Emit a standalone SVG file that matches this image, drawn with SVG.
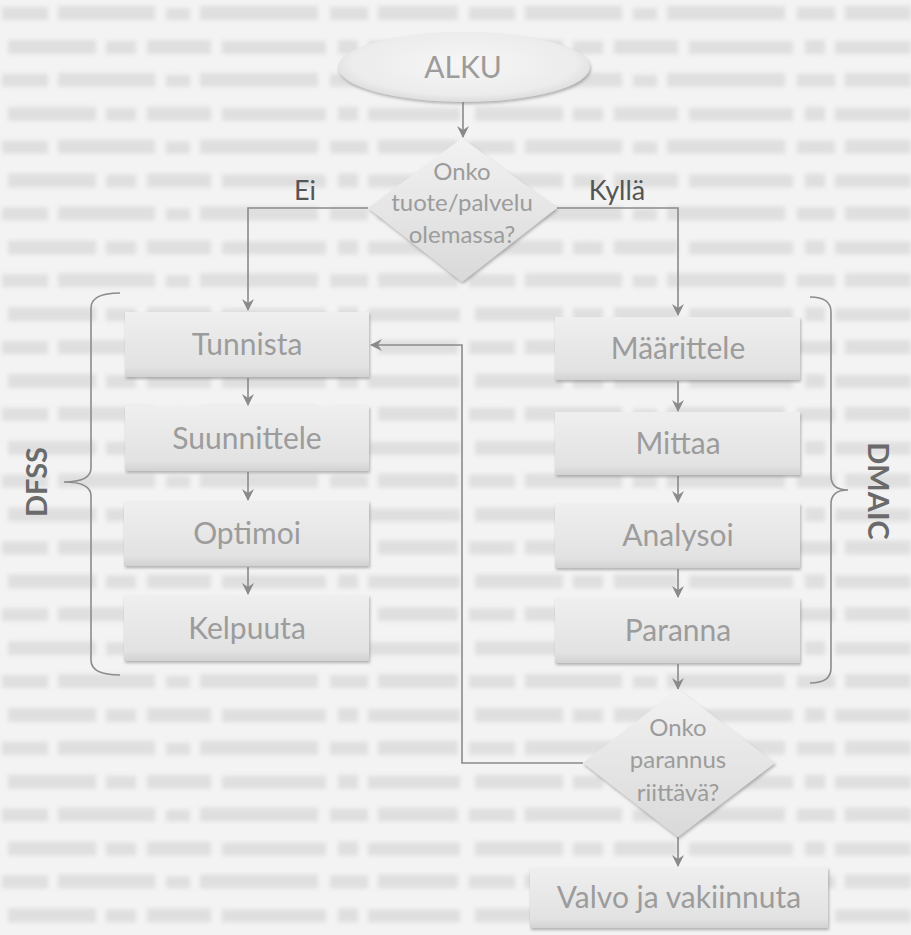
<svg xmlns="http://www.w3.org/2000/svg" width="911" height="935" viewBox="0 0 911 935">
  <defs>
    <style>
      .node-text { font-family: Lato, "Open Sans", "Liberation Sans", sans-serif; fill: #9c9c9c; text-anchor: middle; }
      .box-text { font-size: 30px; }
      .dia-text { font-size: 24px; }
      .branch { font-family: Lato, "Open Sans", "Liberation Sans", sans-serif; font-size: 27px; fill: #555; text-anchor: middle; }
      .group-label { font-family: Lato, "Open Sans", "Liberation Sans", sans-serif; font-size: 29px; font-weight: bold; fill: #6a6a6a; text-anchor: middle; }
      .conn { fill: none; stroke: #8a8a8a; stroke-width: 1.6; }
      .brace { fill: none; stroke: #8c8c8c; stroke-width: 1.6; }
      .box { fill: url(#boxFill); filter: url(#shadow); }
      .diamond { fill: url(#diaFill); filter: url(#shadow); }
      .w { fill: #c4c4c4; }
    </style>
    <linearGradient id="boxFill" x1="0" y1="0" x2="0" y2="1">
      <stop offset="0" stop-color="#efefef"/>
      <stop offset="0.85" stop-color="#e2e2e2"/>
      <stop offset="1" stop-color="#d2d2d2"/>
    </linearGradient>
    <linearGradient id="diaFill" x1="0" y1="0" x2="0" y2="1">
      <stop offset="0" stop-color="#f2f2f2"/>
      <stop offset="1" stop-color="#d9d9d9"/>
    </linearGradient>
    <radialGradient id="ovalFill" cx="0.5" cy="0.45" r="0.6">
      <stop offset="0" stop-color="#f6f6f6"/>
      <stop offset="0.75" stop-color="#ececec"/>
      <stop offset="1" stop-color="#d4d4d4"/>
    </radialGradient>
    <filter id="shadow" x="-10%" y="-10%" width="125%" height="135%">
      <feDropShadow dx="1" dy="2" stdDeviation="1.5" flood-color="#7a7a7a" flood-opacity="0.55"/>
    </filter>
    <filter id="soft" x="-5%" y="-5%" width="110%" height="110%">
      <feGaussianBlur stdDeviation="2.2"/>
    </filter>
    <marker id="arrow" viewBox="0 0 12 12" refX="11" refY="6" markerWidth="12" markerHeight="12" markerUnits="userSpaceOnUse" orient="auto">
      <path d="M0,0 L12,6 L0,12 L4,6 Z" fill="#8a8a8a"/>
    </marker>
    <!-- print bleed-through from the page: two staggered rows of word-like blocks -->
    <pattern id="printRows" x="0" y="2" width="467" height="66.8" patternUnits="userSpaceOnUse">
      <rect class="w" x="2" y="5" width="46" height="13"/>
      <rect class="w" x="58" y="4" width="97" height="14"/>
      <rect class="w" x="166" y="6" width="24" height="12"/>
      <rect class="w" x="200" y="4" width="118" height="14"/>
      <rect class="w" x="330" y="5" width="38" height="13"/>
      <rect class="w" x="378" y="4" width="80" height="14"/>
      <rect class="w" x="8" y="38" width="88" height="14"/>
      <rect class="w" x="106" y="39" width="30" height="13"/>
      <rect class="w" x="147" y="38" width="64" height="14"/>
      <rect class="w" x="222" y="39" width="104" height="13"/>
      <rect class="w" x="338" y="38" width="20" height="14"/>
      <rect class="w" x="368" y="39" width="92" height="13"/>
    </pattern>
  </defs>

  <!-- page -->
  <rect x="0" y="0" width="911" height="935" fill="#f3f3f3"/>
  <rect x="0" y="0" width="911" height="935" fill="url(#printRows)" opacity="0.42" filter="url(#soft)"/>

  <!-- connectors -->
  <g id="connectors">
    <path class="conn" d="M463,102 L463,137" marker-end="url(#arrow)"/>
    <path class="conn" d="M368,208 L248,208 L248,310" marker-end="url(#arrow)"/>
    <path class="conn" d="M557,208 L678,208 L678,315" marker-end="url(#arrow)"/>
    <path class="conn" d="M248,378 L248,405" marker-end="url(#arrow)"/>
    <path class="conn" d="M248,472 L248,500" marker-end="url(#arrow)"/>
    <path class="conn" d="M248,567 L248,594" marker-end="url(#arrow)"/>
    <path class="conn" d="M678,381 L678,411" marker-end="url(#arrow)"/>
    <path class="conn" d="M678,476 L678,502" marker-end="url(#arrow)"/>
    <path class="conn" d="M678,569 L678,597" marker-end="url(#arrow)"/>
    <path class="conn" d="M678,664 L678,689" marker-end="url(#arrow)"/>
    <path class="conn" d="M583,763 L462,763 L462,345 L371,345" marker-end="url(#arrow)"/>
    <path class="conn" d="M678,837 L678,866" marker-end="url(#arrow)"/>
  </g>

  <!-- branch labels -->
  <g id="labels">
    <text class="branch" x="305" y="200">Ei</text>
    <text class="branch" x="617" y="200">Kyllä</text>
  </g>

  <!-- start -->
  <g id="alku">
    <ellipse cx="464" cy="67" rx="126" ry="35" fill="url(#ovalFill)" filter="url(#shadow)"/>
    <text class="node-text box-text" x="463" y="78">ALKU</text>
  </g>

  <!-- first decision -->
  <g id="decision-exists">
    <polygon class="diamond" points="462,138 557,208 462,282 368,208"/>
    <text class="node-text dia-text" x="462" y="180">Onko</text>
    <text class="node-text dia-text" x="462" y="211">tuote/palvelu</text>
    <text class="node-text dia-text" x="462" y="243">olemassa?</text>
  </g>

  <!-- DFSS column -->
  <g id="tunnista">
    <rect class="box" x="125" y="312" width="244" height="65"/>
    <text class="node-text box-text" x="247" y="355">Tunnista</text>
  </g>
  <g id="suunnittele">
    <rect class="box" x="125" y="406" width="244" height="65"/>
    <text class="node-text box-text" x="247" y="449">Suunnittele</text>
  </g>
  <g id="optimoi">
    <rect class="box" x="124" y="501" width="245" height="65"/>
    <text class="node-text box-text" x="247" y="544">Optimoi</text>
  </g>
  <g id="kelpuuta">
    <rect class="box" x="124" y="595" width="245" height="66"/>
    <text class="node-text box-text" x="247" y="639">Kelpuuta</text>
  </g>

  <!-- DMAIC column -->
  <g id="maarittele">
    <rect class="box" x="555" y="317" width="245" height="63"/>
    <text class="node-text box-text" x="678" y="359">Määrittele</text>
  </g>
  <g id="mittaa">
    <rect class="box" x="555" y="412" width="245" height="63"/>
    <text class="node-text box-text" x="678" y="454">Mittaa</text>
  </g>
  <g id="analysoi">
    <rect class="box" x="555" y="503" width="245" height="65"/>
    <text class="node-text box-text" x="678" y="546">Analysoi</text>
  </g>
  <g id="paranna">
    <rect class="box" x="555" y="598" width="245" height="65"/>
    <text class="node-text box-text" x="678" y="641">Paranna</text>
  </g>

  <!-- second decision -->
  <g id="decision-enough">
    <polygon class="diamond" points="678,689 775,763 678,837 583,763"/>
    <text class="node-text dia-text" x="678" y="736">Onko</text>
    <text class="node-text dia-text" x="678" y="768">parannus</text>
    <text class="node-text dia-text" x="678" y="801">riittävä?</text>
  </g>

  <!-- final step -->
  <g id="valvo">
    <rect class="box" x="530" y="867" width="298" height="61"/>
    <text class="node-text box-text" x="679" y="908">Valvo ja vakiinnuta</text>
  </g>

  <!-- phase braces -->
  <g id="dfss-brace">
    <path class="brace" d="M120,293 Q91,293 91,308 L91,468 Q91,482 64,482 Q91,482 91,496 L91,660 Q91,675 120,675"/>
    <text class="group-label" transform="translate(47,482) rotate(-90)">DFSS</text>
  </g>
  <g id="dmaic-brace">
    <path class="brace" d="M810,297 Q831,297 831,312 L831,476 Q831,490 848,490 Q831,490 831,504 L831,668 Q831,683 810,683"/>
    <text class="group-label" transform="translate(868,491) rotate(90)">DMAIC</text>
  </g>
</svg>
